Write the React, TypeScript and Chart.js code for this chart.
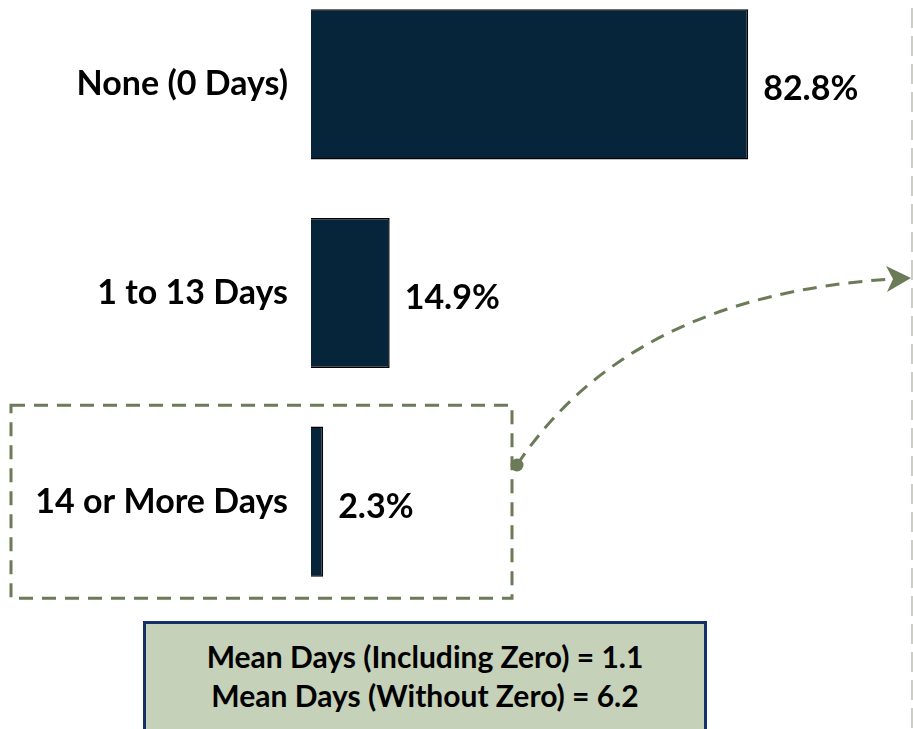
import React, { useEffect, useRef } from "react";
import { Chart, registerables } from "chart.js";

Chart.register(...registerables);

const categories = ["None (0 Days)", "1 to 13 Days", "14 or More Days"];
const shares = [82.8, 14.9, 2.3];
const shareLabels = ["82.8%", "14.9%", "2.3%"];
const meanLines = ["Mean Days (Including Zero) = 1.1", "Mean Days (Without Zero) = 6.2"];

const FONT = "Lato, 'Open Sans', sans-serif";
const GREEN = "#6b7b58";
const CANVAS_TOP = -20;

const overlayPlugin = {
  id: "overlay",
  afterDatasetsDraw(chart: any) {
    const ctx = chart.ctx;
    const meta = chart.getDatasetMeta(0);
    ctx.save();
    ctx.fillStyle = "#000";
    ctx.font = `bold 34px ${FONT}`;
    ctx.textAlign = "left";
    ctx.textBaseline = "middle";
    meta.data.forEach((bar: any, i: number) => {
      ctx.fillText(shareLabels[i], bar.x + 15, bar.y + 5);
    });
    ctx.restore();
  },
  afterDraw(chart: any) {
    const ctx = chart.ctx;
    const y = chart.scales.y;
    const off = -CANVAS_TOP;
    ctx.save();
    // right dotted separator
    ctx.strokeStyle = "#cdcfc4";
    ctx.lineWidth = 2;
    ctx.setLineDash([20, 8]);
    ctx.beginPath();
    ctx.moveTo(912, 0);
    ctx.lineTo(912, chart.height);
    ctx.stroke();

    // dashed box around last category
    const cy = y.getPixelForValue(2);
    ctx.strokeStyle = GREEN;
    ctx.lineWidth = 3;
    ctx.setLineDash([14, 9]);
    ctx.strokeRect(11, cy - 96.5, 501, 193);

    // curved dashed arrow
    const sx = 517, sy = 465 + off;
    const ex = 893, ey = 279 + off;
    ctx.beginPath();
    ctx.moveTo(sx, sy);
    ctx.quadraticCurveTo(630, 295 + off, ex, ey);
    ctx.stroke();
    ctx.setLineDash([]);
    // dot
    ctx.fillStyle = GREEN;
    ctx.beginPath();
    ctx.arc(sx, sy, 6.5, 0, Math.PI * 2);
    ctx.fill();
    // arrowhead
    ctx.beginPath();
    ctx.moveTo(911, 278 + off);
    ctx.lineTo(886, 266 + off);
    ctx.lineTo(893, 279 + off);
    ctx.lineTo(887, 292 + off);
    ctx.closePath();
    ctx.fill();
    ctx.restore();
  },
};

export default function App() {
  const ref = useRef<HTMLCanvasElement>(null);
  useEffect(() => {
    if (!ref.current) return;
    const chart = new Chart(ref.current, {
      type: "bar",
      data: {
        labels: categories,
        datasets: [
          {
            data: shares,
            backgroundColor: "#06253a",
            borderColor: "#000000",
            borderWidth: 1.5,
            barPercentage: 0.72,
            categoryPercentage: 1,
          },
        ],
      },
      options: {
        indexAxis: "y",
        responsive: false,
        animation: false,
        events: [],
        layout: { padding: { top: 0, bottom: 123, left: 0, right: 74 } },
        plugins: { legend: { display: false }, tooltip: { enabled: false } },
        scales: {
          x: { display: false, min: 0, max: 100 },
          y: {
            grid: { display: false, drawTicks: false },
            border: { display: false },
            afterFit: (s: any) => {
              s.width = 311;
              s.paddingTop = 0;
              s.paddingBottom = 0;
            },
            ticks: {
              padding: 23,
              color: "#000",
              font: { family: FONT, size: 34, weight: "bold" },
            },
          },
        },
      },
      plugins: [overlayPlugin],
    });
    return () => chart.destroy();
  }, []);

  return (
    <div style={{ position: "fixed", left: 0, top: 0, width: 913, height: 729, overflow: "hidden", background: "#fff" }}>
      <canvas ref={ref} width={913} height={749} style={{ position: "absolute", left: 0, top: CANVAS_TOP, width: 913, height: 749 }} />
      <div
        style={{
          position: "absolute",
          left: 143,
          top: 621,
          width: 564,
          height: 112,
          boxSizing: "border-box",
          border: "3px solid #13306a",
          background: "#c6d1b9",
          paddingTop: 13,
          textAlign: "center",
          fontFamily: FONT,
          fontWeight: "bold",
          fontSize: 30,
          lineHeight: "39px",
          color: "#000",
        }}
      >
        {meanLines.map((t) => (
          <div key={t}>{t}</div>
        ))}
      </div>
    </div>
  );
}
